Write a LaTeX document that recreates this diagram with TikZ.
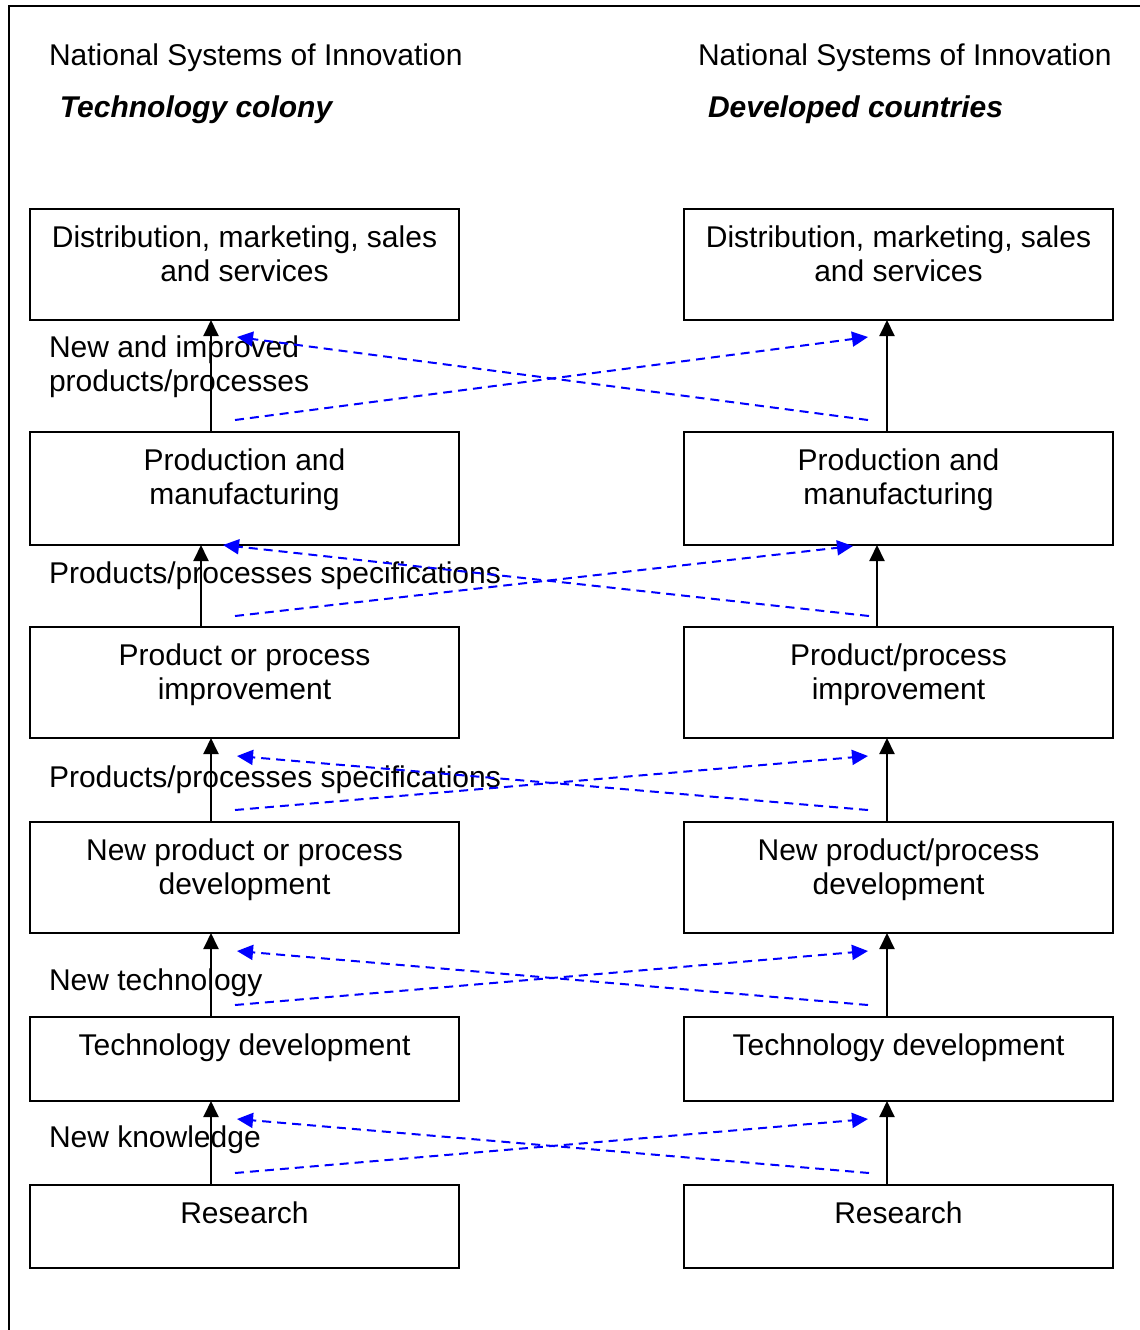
\documentclass[tikz,border=0pt]{standalone}
\usepackage{fontspec}
\setmainfont{Liberation Sans}
\usetikzlibrary{arrows.meta,fit}
\begin{document}
\begin{tikzpicture}[x=0.5pt,y=-0.5pt,
  every node/.style={inner sep=0pt,outer sep=0pt,font=\fontsize{15}{17}\selectfont},
  box/.style={draw,line width=1pt,fit={#1}},
  boxtext/.style={align=center,anchor=north},
  lbl/.style={align=left,anchor=north west},
  head/.style={anchor=base west},
  subhead/.style={anchor=base west,font=\fontsize{15}{17}\selectfont\bfseries\itshape},
  flow/.style={line width=1pt,-{Triangle[length=8pt,width=7.5pt]}},
  cross/.style={blue,line width=1pt,dash pattern=on 4.5pt off 3pt,-{Triangle[length=8pt,width=7.5pt]}}]
\useasboundingbox (0,0) rectangle (1140,1330);

% frame
\draw[line width=1pt] (9,1330) -- (9,6) -- (1140,6);

% headings
\node[head] (hl) at (49,65) {National Systems of Innovation};
\node[head] (hr) at (698,65) {National Systems of Innovation};
\node[subhead] (sl) at (60,117) {Technology colony};
\node[subhead] (sr) at (708,117) {Developed countries};

% left column boxes
\node[box={(30,209) (459,320)}] (L1) {};
\node[box={(30,432) (459,545)}] (L2) {};
\node[box={(30,627) (459,738)}] (L3) {};
\node[box={(30,822) (459,933)}] (L4) {};
\node[box={(30,1017) (459,1101)}] (L5) {};
\node[box={(30,1185) (459,1268)}] (L6) {};
% right column boxes
\node[box={(684,209) (1113,320)}] (R1) {};
\node[box={(684,432) (1113,545)}] (R2) {};
\node[box={(684,627) (1113,738)}] (R3) {};
\node[box={(684,822) (1113,933)}] (R4) {};
\node[box={(684,1017) (1113,1101)}] (R5) {};
\node[box={(684,1185) (1113,1268)}] (R6) {};

% box texts
\node[boxtext] (L1t) at ([yshift=-8.25pt]L1.north) {Distribution, marketing, sales\\and services};
\node[boxtext] (L2t) at ([yshift=-8.25pt]L2.north) {Production and\\manufacturing};
\node[boxtext] (L3t) at ([yshift=-8.25pt]L3.north) {Product or process\\improvement};
\node[boxtext] (L4t) at ([yshift=-8.25pt]L4.north) {New product or process\\development};
\node[boxtext] (L5t) at ([yshift=-8.25pt]L5.north) {Technology development};
\node[boxtext] (L6t) at ([yshift=-8.25pt]L6.north) {Research};
\node[boxtext] (R1t) at ([yshift=-8.25pt]R1.north) {Distribution, marketing, sales\\and services};
\node[boxtext] (R2t) at ([yshift=-8.25pt]R2.north) {Production and\\manufacturing};
\node[boxtext] (R3t) at ([yshift=-8.25pt]R3.north) {Product/process\\improvement};
\node[boxtext] (R4t) at ([yshift=-8.25pt]R4.north) {New product/process\\development};
\node[boxtext] (R5t) at ([yshift=-8.25pt]R5.north) {Technology development};
\node[boxtext] (R6t) at ([yshift=-8.25pt]R6.north) {Research};

% flow labels
\node[lbl] (f1) at (49,336) {New and improved\\products/processes};
\node[head] (f2) at (49,583.5) {Products/processes specifications};
\node[head] (f3) at (49,787) {Products/processes specifications};
\node[head] (f4) at (49,990) {New technology};
\node[head] (f5) at (49,1147.5) {New knowledge};

% upward flows
\draw[flow] (L2.north -| 211,0) -- (L1.south -| 211,0);
\draw[flow] (L3.north -| 201,0) -- (L2.south -| 201,0);
\draw[flow] (L4.north -| 211,0) -- (L3.south -| 211,0);
\draw[flow] (L5.north -| 211,0) -- (L4.south -| 211,0);
\draw[flow] (L6.north -| 211,0) -- (L5.south -| 211,0);
\draw[flow] (R2.north -| 887,0) -- (R1.south -| 887,0);
\draw[flow] (R3.north -| 877,0) -- (R2.south -| 877,0);
\draw[flow] (R4.north -| 887,0) -- (R3.south -| 887,0);
\draw[flow] (R5.north -| 887,0) -- (R4.south -| 887,0);
\draw[flow] (R6.north -| 887,0) -- (R5.south -| 887,0);

% cross-links between the two systems
\coordinate (a1) at (235,420);  \coordinate (b1) at (868,337);
\coordinate (c1) at (868,420);  \coordinate (d1) at (237,337);
\coordinate (a2) at (235,616);  \coordinate (b2) at (853,546);
\coordinate (c2) at (869,616);  \coordinate (d2) at (223,545);
\coordinate (a3) at (235,810);  \coordinate (b3) at (868,756);
\coordinate (c3) at (868,810);  \coordinate (d3) at (237,756);
\coordinate (a4) at (235,1005); \coordinate (b4) at (868,951);
\coordinate (c4) at (868,1005); \coordinate (d4) at (237,951);
\coordinate (a5) at (235,1173); \coordinate (b5) at (868,1119);
\coordinate (c5) at (869,1173); \coordinate (d5) at (237,1119);
\foreach \i in {1,...,5}{
  \draw[cross] (a\i) -- (b\i);
  \draw[cross] (c\i) -- (d\i);
}
\end{tikzpicture}
\end{document}
